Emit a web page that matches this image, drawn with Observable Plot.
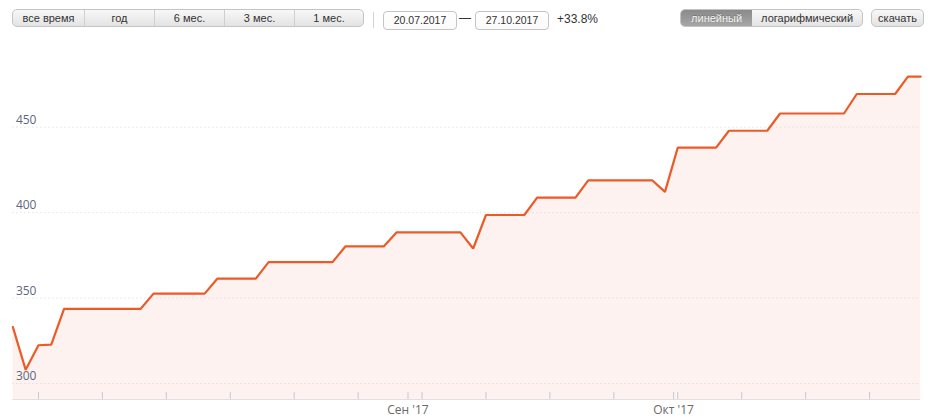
<!DOCTYPE html>
<html><head><meta charset="utf-8">
<script src="https://cdn.jsdelivr.net/npm/d3@7"></script>
<script src="https://cdn.jsdelivr.net/npm/@observablehq/plot@0.6"></script>
<style>
body{margin:0;background:#fff;width:939px;height:420px;overflow:hidden;position:relative;font-family:"Liberation Sans",Arial,sans-serif;color:#333;}
.grp{position:absolute;top:9px;height:18px;box-sizing:border-box;border:1px solid #c4c4c4;border-radius:5px;overflow:hidden;display:flex;background:linear-gradient(#f8f8f8,#e3e3e3);}
.grp div{box-sizing:border-box;height:100%;font-size:11px;line-height:16px;text-align:center;color:#333;border-left:1px solid #cfcfcf;}
.grp div:first-child{border-left:none;}
.grp div.on{background:linear-gradient(#8a8a8a,#a6a6a6);color:#f4f4f4;text-shadow:0 -1px 0 #777;border-left:none;}
.inp{position:absolute;top:11px;height:19px;width:74px;box-sizing:border-box;border:1px solid #c4c4c4;border-radius:4px;background:linear-gradient(#fff,#fafafa);font-size:10.5px;line-height:17px;text-align:center;color:#333;}
.sep{position:absolute;left:373px;top:12px;width:1px;height:16px;background:#d4d4d4;}
.txt{position:absolute;font-size:12px;color:#333;}
#chart{position:absolute;left:0;top:40px;}
</style>
</head><body>
<div class="grp" style="left:12px;width:352px;">
  <div style="width:71px">все время</div><div style="width:70px">год</div><div style="width:70px">6 мес.</div><div style="width:70px">3 мес.</div><div style="width:69px">1 мес.</div>
</div>
<div class="sep"></div>
<div class="inp" style="left:383px;">20.07.2017</div>
<div class="txt" style="left:459px;top:11px;">—</div>
<div class="inp" style="left:475px;">27.10.2017</div>
<div class="txt" style="left:557px;top:12px;">+33.8%</div>
<div class="grp" style="left:680px;width:183px;">
  <div class="on" style="width:72px">линейный</div><div style="width:111px;border-left:none">логарифмический</div>
</div>
<div class="grp" style="left:871px;width:53px;"><div style="width:51px">скачать</div></div>
<div id="chart"></div>
<script>
const dates = [
 "2017-07-20","2017-07-21","2017-07-24","2017-07-25","2017-07-26","2017-07-27","2017-07-28","2017-07-31",
 "2017-08-01","2017-08-02","2017-08-03","2017-08-04","2017-08-07","2017-08-08","2017-08-09","2017-08-10","2017-08-11",
 "2017-08-14","2017-08-15","2017-08-16","2017-08-17","2017-08-18","2017-08-21","2017-08-22","2017-08-23","2017-08-24","2017-08-25",
 "2017-08-28","2017-08-29","2017-08-30","2017-08-31",
 "2017-09-01","2017-09-04","2017-09-05","2017-09-06","2017-09-07","2017-09-08","2017-09-11","2017-09-12","2017-09-13","2017-09-14","2017-09-15",
 "2017-09-18","2017-09-19","2017-09-20","2017-09-21","2017-09-22","2017-09-25","2017-09-26","2017-09-27","2017-09-28","2017-09-29",
 "2017-10-02","2017-10-03","2017-10-04","2017-10-05","2017-10-06","2017-10-09","2017-10-10","2017-10-11","2017-10-12","2017-10-13",
 "2017-10-16","2017-10-17","2017-10-18","2017-10-19","2017-10-20","2017-10-23","2017-10-24","2017-10-25","2017-10-26","2017-10-27"
];
const values = [
 333, 308, 322.4, 322.8,
 343.7, 343.7, 343.7, 343.7, 343.7, 343.7, 343.7,
 352.6, 352.6, 352.6, 352.6, 352.6,
 361.4, 361.4, 361.4, 361.4,
 371, 371, 371, 371, 371, 371,
 380.2, 380.2, 380.2, 380.2,
 388.4, 388.4, 388.4, 388.4, 388.4, 388.4,
 379,
 398.6, 398.6, 398.6, 398.6,
 408.8, 408.8, 408.8, 408.8,
 418.9, 418.9, 418.9, 418.9, 418.9, 418.9,
 412.1,
 438, 438, 438, 438,
 447.9, 447.9, 447.9, 447.9,
 458, 458, 458, 458, 458, 458,
 469.4, 469.4, 469.4, 469.4,
 479.6, 479.6
];
const yTicks = [300, 350, 400, 450];
const monthTickPos = [30.9, 51.67];
const monthTickLabels = ["Сен '17", "Окт '17"];

const data = dates.map((d, i) => ({i, date: new Date(d), v: values[i]}));
const weekTicks = data.filter(d => d.date.getUTCDay() === 1).map(d => d.i);
const allTicks = weekTicks.concat(monthTickPos);
const months = monthTickPos.map((p, k) => ({p, label: monthTickLabels[k]}));
const yMin = 290.65, yMax = 500.7;

const chart = Plot.plot({
  width: 939, height: 380,
  marginLeft: 12.4, marginRight: 18.8, marginTop: 0, marginBottom: 21,
  x: {domain: [0, dates.length - 1], axis: null},
  y: {domain: [yMin, yMax], axis: null},
  style: {fontFamily: "'Open Sans', sans-serif", fontSize: "12px", background: "transparent", overflow: "visible"},
  marks: [
    Plot.areaY(data, {x: "i", y1: yMin, y2: "v", fill: "#fdf2ef"}),
    Plot.ruleY(yTicks, {stroke: "#d6d6d6", strokeDasharray: "1,3"}),
    Plot.ruleY([yMin], {stroke: "#e0e0e0"}),
    Plot.ruleX(allTicks, {x: d => d, y1: yMin, y2: yMin + 4.1, stroke: "#c3cad6"}),
    Plot.line(data, {x: "i", y: "v", stroke: "#ec5a27", strokeWidth: 2.2, strokeLinejoin: "miter"}),
    Plot.text(yTicks, {y: d => d, frameAnchor: "left", textAnchor: "start", dx: 3, dy: -7, text: d => String(d), fill: "#5d687c", fontSize: 12}),
    Plot.text(months, {x: "p", y: yMin, text: "label", dy: 10.5, fill: "#6a6a6a", fontSize: 12})
  ]
});
document.getElementById("chart").appendChild(chart);
</script>
</body></html>
